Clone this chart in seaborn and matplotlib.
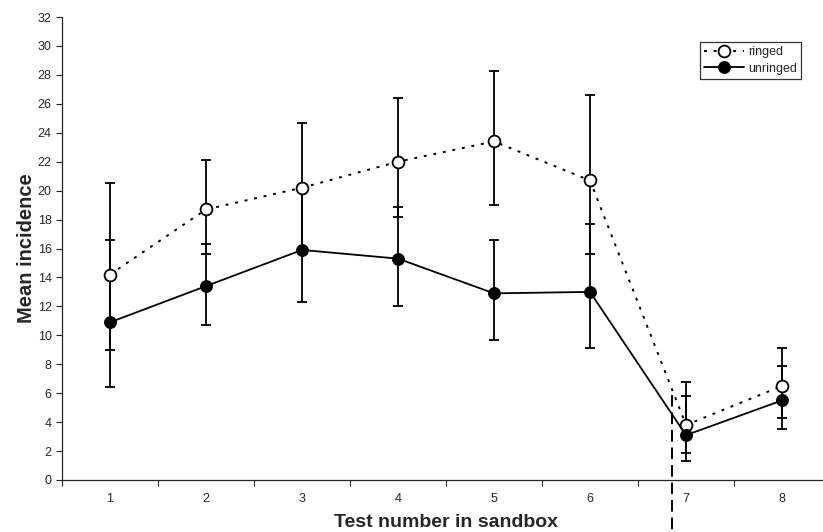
import numpy as np
import pandas as pd
import seaborn as sns
import matplotlib.pyplot as plt
from matplotlib.ticker import FixedLocator

# --- data ---
tests = [1, 2, 3, 4, 5, 6, 7, 8]
ringed_mean = [14.2, 18.7, 20.2, 22.0, 23.4, 20.7, 3.8, 6.5]
ringed_upper = [20.5, 22.1, 24.7, 26.4, 28.3, 26.6, 6.8, 9.1]
ringed_lower = [9.0, 15.6, 15.9, 18.2, 19.0, 15.6, 1.9, 4.3]
unringed_mean = [10.9, 13.4, 15.9, 15.3, 12.9, 13.0, 3.1, 5.5]
unringed_upper = [16.6, 16.3, 20.2, 18.9, 16.6, 17.7, 5.8, 7.9]
unringed_lower = [6.4, 10.7, 12.3, 12.0, 9.7, 9.1, 1.3, 3.5]
split_x = 6.85  # dashed separator between test 6 and 7

df = pd.DataFrame({
    "test": tests * 2,
    "mean": ringed_mean + unringed_mean,
    "group": ["ringed"] * 8 + ["unringed"] * 8,
})

sns.set_style("ticks")
plt.rcParams["font.family"] = ["Liberation Sans", "DejaVu Sans"]

fig = plt.figure(figsize=(8.23, 5.32), dpi=100)
ax = fig.add_axes([62 / 823, 52 / 532, 768 / 823, 463 / 532])

# error bars first so markers sit on top
for m, lo, hi in [(ringed_mean, ringed_lower, ringed_upper),
                  (unringed_mean, unringed_lower, unringed_upper)]:
    m, lo, hi = np.array(m), np.array(lo), np.array(hi)
    ax.errorbar(tests, m, yerr=[m - lo, hi - m], fmt="none", ecolor="black",
                elinewidth=1.3, capsize=3.5, capthick=1.3, zorder=2)

sns.lineplot(data=df[df.group == "ringed"], x="test", y="mean", ax=ax,
             color="black", linestyle=(0, (1.5, 3.5)), linewidth=1.4,
             marker="o", markersize=8.5, markerfacecolor="white",
             markeredgecolor="black", markeredgewidth=1.3,
             label="ringed", zorder=3)
sns.lineplot(data=df[df.group == "unringed"], x="test", y="mean", ax=ax,
             color="black", linestyle="-", linewidth=1.3,
             marker="o", markersize=8.5, markerfacecolor="black",
             markeredgecolor="black", label="unringed", zorder=4)

# vertical dashed separator, running below the axis
ax.plot([split_x, split_x], [5.9, -3.6], color="black", linestyle=(0, (6, 3)),
        linewidth=1.4, clip_on=False, zorder=1)

ax.set_xlim(0.5, 8.5)
ax.set_ylim(0, 32)
ax.set_yticks(np.arange(0, 33, 2))
ax.set_xticks(tests)
ax.xaxis.set_minor_locator(FixedLocator(np.arange(0.5, 8.6, 1)))
ax.tick_params(axis="x", which="major", length=0, pad=9, labelsize=9)
ax.tick_params(axis="x", which="minor", length=4, width=0.8, direction="out")
ax.tick_params(axis="y", length=4, width=0.8, direction="out", labelsize=9)

ax.set_xlabel("Test number in sandbox", fontsize=14, fontweight="bold", labelpad=7)
ax.set_ylabel("Mean incidence", fontsize=14.5, fontweight="bold", labelpad=1)

sns.despine(ax=ax)
for s in ["left", "bottom"]:
    ax.spines[s].set_linewidth(0.9)

leg = ax.legend(loc="upper left", bbox_to_anchor=(700 / 823, 1 - 42 / 532),
                bbox_transform=fig.transFigure, fontsize=9, frameon=True,
                fancybox=False, edgecolor="black", handlelength=3.2,
                borderpad=0.35, labelspacing=0.35, handletextpad=0.3,
                borderaxespad=0)
leg.get_frame().set_linewidth(0.9)

plt.savefig("out.png", dpi=100)
